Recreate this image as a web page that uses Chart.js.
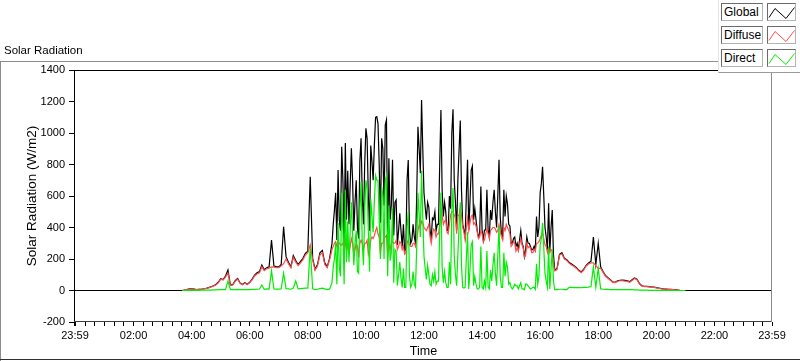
<!DOCTYPE html>
<html><head><meta charset="utf-8">
<script src="https://cdn.jsdelivr.net/npm/chart.js@4.4.1/dist/chart.umd.min.js"></script>
<style>
html,body{margin:0;padding:0;background:#fff;}
#wrap{position:relative;width:800px;height:361px;overflow:hidden;font-family:"Liberation Sans",Arial,sans-serif;color:#000;}
#c{position:absolute;left:0;top:0;}
#title{position:absolute;left:4px;top:44px;font-size:11.5px;line-height:13px;white-space:nowrap;}
#legend{position:absolute;left:718px;top:0;width:81px;height:72px;background:#fff;border-right:1px solid #9a9a9a;border-bottom:1px solid #9a9a9a;border-left:1px solid #e4e4e4;}
.name{position:absolute;left:2px;width:42px;height:18px;box-sizing:border-box;border:1px solid;border-color:#6a6a6a #b4b4b4 #b4b4b4 #6a6a6a;font-size:12px;line-height:16px;padding-left:2px;background:#fff;white-space:nowrap;}
.icon{position:absolute;left:48px;width:29px;height:18px;box-sizing:border-box;border:1px solid;border-color:#6a6a6a #b4b4b4 #b4b4b4 #6a6a6a;background:#fff;}
.icon svg{position:absolute;left:-1px;top:-1px;}
</style></head>
<body><div id="wrap">
<canvas id="c" width="800" height="361"></canvas>
<div id="title">Solar Radiation</div>
<div id="legend"></div>
</div>
<script>
// ---- data (W/m2) ----
const seriesNames = ['Global', 'Diffuse', 'Direct'];
// sample times in minutes after midnight: [start, end, step] segments
const sampleSegments = [[220, 525, 5], [530, 990, 2.5], [995, 1260, 5]];
const globalW = [
  // 03:40 - 08:45 (5 min)
  0, 2, 6, 10,
  10, 9, 6, 7, 8, 11, 14, 18, 24, 30, 38, 52,
  75, 70, 92, 130, 35, 38, 62, 77, 48, 38, 50, 40,
  52, 72, 98, 112, 120, 162, 132, 145, 151, 320, 155, 152,
  150, 165, 405, 215, 180, 150, 222, 190, 165, 185, 204, 236,
  250, 722, 204, 135, 165, 240, 255, 175, 150, 204,
  // 08:50 - 16:30 (2.5 min)
  300, 420, 511, 620, 320, 765,
  450, 380, 913, 700, 300, 936,
  450, 760, 420, 670, 903, 700,
  380, 560, 700, 400, 330, 820,
  966, 600, 420, 800, 1030, 966,
  600, 380, 920, 820, 700, 924,
  1100, 1104, 1060, 800, 430, 966,
  900, 540, 1050, 1083, 300, 839,
  450, 540, 830, 350, 560, 575,
  290, 380, 490, 380, 280, 420,
  250, 260, 700, 829, 380, 300,
  320, 420, 340, 300, 600, 1040,
  900, 745, 1210, 900, 620, 530,
  450, 560, 530, 384, 330, 460,
  450, 500, 380, 420, 420, 800,
  1146, 638, 470, 560, 500, 384,
  380, 600, 520, 1000, 1150, 700,
  560, 384, 700, 892, 1080, 638,
  420, 384, 340, 600, 830, 384,
  560, 765, 790, 448, 520, 450,
  380, 340, 360, 660, 384, 321,
  384, 384, 640, 384, 340, 511,
  448, 560, 640, 500, 400, 600,
  830, 470, 360, 340, 640, 470,
  600, 550, 420, 410, 300, 300,
  330, 340, 280, 300, 260, 321,
  380, 300, 280, 215, 260, 340,
  300, 300, 280, 257, 260, 280,
  257, 469, 340, 400, 620, 680,
  786, 600, 400, 340, 257, 554,
  250, 400, 511, 230, 130,
  // 16:35 - 21:00 (5 min)
  140, 230, 240, 205, 195,
  178, 168, 158, 145, 128, 118, 135, 160, 175, 185, 340, 165,
  300, 150, 120, 95, 82, 68, 55, 52, 62, 65, 66, 64,
  62, 56, 68, 80, 72, 45, 30, 27, 26, 25, 23, 22,
  18, 16, 12, 10, 9, 8, 7, 6, 5, 3, 0, 0,
  0
];
const diffuseW = [
  0, 2, 6, 9,
  9, 8, 6, 7, 8, 10, 13, 17, 22, 28, 35, 48,
  72, 66, 85, 110, 32, 35, 58, 72, 45, 36, 47, 38,
  50, 68, 92, 105, 112, 150, 126, 138, 142, 150, 148, 145,
  145, 155, 170, 200, 170, 145, 210, 180, 158, 175, 195, 225,
  240, 290, 195, 128, 155, 225, 240, 165, 145, 195,
  260, 280, 300, 310, 280, 320,
  300, 290, 290, 300, 260, 320,
  240, 300, 230, 280, 330, 300,
  220, 260, 300, 280, 210, 300,
  320, 300, 260, 300, 300, 320,
  230, 260, 320, 340, 330, 350,
  380, 400, 360, 340, 230, 300,
  300, 330, 340, 350, 210, 300,
  260, 300, 310, 300, 300, 320,
  260, 280, 310, 300, 260, 280,
  230, 240, 300, 320, 290, 280,
  280, 300, 300, 280, 320, 380,
  420, 400, 440, 430, 400, 390,
  380, 400, 420, 340, 300, 360,
  390, 380, 340, 360, 360, 420,
  520, 480, 420, 440, 450, 370,
  360, 420, 480, 500, 500, 480,
  460, 360, 470, 480, 520, 480,
  400, 370, 320, 400, 460, 380,
  430, 470, 480, 420, 430, 410,
  370, 330, 340, 380, 360, 310,
  320, 360, 390, 360, 330, 380,
  390, 400, 400, 390, 370, 380,
  420, 380, 340, 320, 400, 380,
  420, 400, 380, 360, 280, 290,
  310, 300, 250, 270, 250, 290,
  330, 290, 270, 210, 220, 300,
  270, 280, 270, 240, 240, 260,
  250, 300, 300, 310, 330, 350,
  360, 330, 290, 280, 240, 270,
  240, 260, 250, 170, 125,
  132, 225, 232, 200, 190,
  172, 162, 152, 140, 124, 114, 130, 155, 168, 175, 175, 158,
  140, 142, 115, 90, 78, 65, 52, 50, 58, 62, 62, 60,
  58, 52, 64, 76, 68, 42, 28, 25, 24, 23, 21, 20,
  17, 15, 11, 9, 8, 7, 6, 5, 4, 3, 0, 0,
  0
];
const directW = [
  0, 0, 1, 1,
  1, 1, 1, 1, 2, 2, 2, 3, 3, 4, 4, 5,
  5, 5, 6, 60, 5, 5, 6, 7, 6, 6, 6, 6,
  6, 7, 7, 8, 8, 35, 8, 10, 9, 125, 10, 9,
  9, 10, 110, 12, 10, 8, 15, 60, 10, 12, 14, 15,
  15, 275, 10, 5, 8, 12, 15, 10, 6, 10,
  50, 150, 200, 300, 40, 430,
  150, 90, 620, 380, 40, 640,
  180, 440, 180, 380, 560, 360,
  160, 300, 380, 120, 110, 520,
  690, 300, 160, 500, 700, 650,
  380, 120, 580, 470, 370, 570,
  730, 700, 700, 450, 200, 660,
  600, 200, 700, 730, 90, 540,
  190, 240, 520, 50, 260, 250,
  30, 100, 180, 80, 20, 140,
  20, 20, 400, 500, 90, 20,
  40, 120, 40, 20, 280, 620,
  480, 340, 760, 470, 220, 140,
  70, 160, 100, 40, 30, 100,
  60, 120, 40, 60, 60, 380,
  620, 150, 50, 120, 50, 20,
  20, 180, 40, 500, 650, 220,
  100, 30, 230, 410, 560, 160,
  20, 15, 20, 200, 370, 10,
  130, 290, 310, 30, 90, 40,
  10, 10, 20, 280, 20, 10,
  60, 20, 250, 20, 10, 130,
  60, 160, 240, 110, 30, 220,
  410, 90, 20, 20, 240, 90,
  180, 150, 40, 50, 20, 10,
  20, 40, 30, 30, 10, 30,
  50, 10, 10, 5, 40, 40,
  30, 20, 10, 15, 20, 20,
  8, 170, 40, 90, 290, 330,
  430, 270, 110, 60, 20, 280,
  10, 140, 260, 60, 5,
  5, 8, 8, 6, 6,
  20, 20, 18, 18, 18, 18, 20, 20, 22, 25, 150, 20,
  140, 10, 8, 7, 7, 6, 6, 6, 6, 6, 6, 6,
  6, 5, 5, 4, 4, 3, 2, 2, 2, 1, 1, 1,
  1, 1, 1, 0, 0, 0, 0, 0, 0, 0, 0, 0,
  0
];
// x axis: minutes from midnight; the day runs 23:59 -> 23:59
const xMinMin = -1, xMaxMin = 1439;
const xMajorTickMinutes = [-1, 120, 240, 360, 480, 600, 720, 840, 960, 1080, 1200, 1320, 1439];
const xMajorTickLabels = ['23:59','02:00','04:00','06:00','08:00','10:00','12:00','14:00','16:00','18:00','20:00','22:00','23:59'];
const xMinorStepMin = 20;
const yMin = -200, yMax = 1400, yStep = 200;
const yTitle = 'Solar Radiation (W/m2)';
const xTitle = 'Time';
const seriesColors = ['#000000', '#ff4d4d', '#00ee00'];

// ---- build ----
const sampleMinutes = [];
sampleSegments.forEach(([a, b, s]) => { for (let t = a; t <= b + 1e-9; t += s) sampleMinutes.push(t); });
function toPoints(arr){ return arr.map((v,i)=>({x: sampleMinutes[i], y: v})).filter(p => p.x !== undefined); }
const globalPts = [{x:xMinMin,y:0}].concat(toPoints(globalW), [{x:xMaxMin,y:0}]);
const diffusePts = toPoints(diffuseW);
const directPts = toPoints(directW);

const xTickValues = [xMinMin];
for (let m = xMinorStepMin; m < xMaxMin; m += xMinorStepMin) xTickValues.push(m);
xTickValues.push(xMaxMin);

const FONT = '"Liberation Sans", Arial, sans-serif';

const framePlugin = {
  id: 'frame',
  afterDraw(chart){
    const c = chart.ctx, a = chart.chartArea;
    c.save();
    c.lineWidth = 1;
    const line = (x1,y1,x2,y2,col)=>{ c.strokeStyle=col; c.beginPath(); c.moveTo(x1,y1); c.lineTo(x2,y2); c.stroke(); };
    line(0, 61.5, 718, 61.5, '#8c8c8c');
    line(0.5, 61, 0.5, 361, '#8c8c8c');
    line(0, 359.5, 800, 359.5, '#303030');
    line(a.left-1, a.top+0.5, a.right, a.top+0.5, '#000');
    line(a.left-0.5, a.top, a.left-0.5, a.bottom, '#000');
    line(a.left-1, a.bottom-0.5, a.right, a.bottom-0.5, '#404040');
    line(a.right-0.5, a.top, a.right-0.5, a.bottom, '#8a8a8a');
    c.restore();
  }
};

new Chart(document.getElementById('c'), {
  type: 'line',
  data: { datasets: [
    {label: seriesNames[2], data: directPts, borderColor: seriesColors[2], borderWidth: 1.2, pointRadius: 0, order: 1},
    {label: seriesNames[1], data: diffusePts, borderColor: seriesColors[1], borderWidth: 1.2, pointRadius: 0, order: 2},
    {label: seriesNames[0], data: globalPts, borderColor: seriesColors[0], borderWidth: 1.2, pointRadius: 0, order: 3}
  ]},
  options: {
    responsive: false, animation: false, devicePixelRatio: 1,
    layout: {padding: {top: 70, right: 28, left: 0, bottom: 0}},
    elements: {line: {tension: 0, fill: false}},
    plugins: {legend: {display: false}, tooltip: {enabled: false}},
    scales: {
      x: {
        type: 'linear', min: xMinMin, max: xMaxMin,
        afterBuildTicks: s => { s.ticks = xTickValues.map(v => ({value: v})); },
        afterFit: s => { s.height = 39; },
        ticks: {autoSkip: false, maxRotation: 0, minRotation: 0, padding: 3, color: '#000',
          font: {family: FONT, size: 11},
          callback: v => { const k = xMajorTickMinutes.indexOf(v); return k >= 0 ? xMajorTickLabels[k] : ''; }},
        grid: {drawOnChartArea: false, drawTicks: true, tickLength: 4, color: '#000',
          lineWidth: c => (c.index === 0 ? 2 : 1)},
        border: {display: false},
        title: {display: true, text: xTitle, color: '#000', font: {family: FONT, size: 12.5}, padding: {top: 0, bottom: 2}}
      },
      y: {
        min: yMin, max: yMax,
        afterFit: s => { s.width = 75; },
        ticks: {stepSize: yStep, padding: 4, color: '#000', font: {family: FONT, size: 11},
          callback: v => String(v)},
        grid: {drawOnChartArea: false, drawTicks: true, tickLength: 6, color: '#000'},
        border: {display: false},
        title: {display: true, text: yTitle, color: '#000', font: {family: FONT, size: 13.5}, padding: {top: 24, bottom: 0}}
      }
    }
  },
  plugins: [framePlugin]
});

// legend (LabVIEW style)
const legend = document.getElementById('legend');
const rowTops = [3, 26, 49];
seriesNames.forEach((n, i) => {
  const nb = document.createElement('div');
  nb.className = 'name'; nb.style.top = rowTops[i] + 'px'; nb.textContent = n;
  legend.appendChild(nb);
  const ib = document.createElement('div');
  ib.className = 'icon'; ib.style.top = rowTops[i] + 'px';
  ib.innerHTML = '<svg width="29" height="18" xmlns="http://www.w3.org/2000/svg"><polyline points="2,14.5 8,5.5 19,15.5 27.5,4.5" fill="none" stroke="' + seriesColors[i] + '" stroke-width="1"/></svg>';
  legend.appendChild(ib);
});
</script>
</body></html>
